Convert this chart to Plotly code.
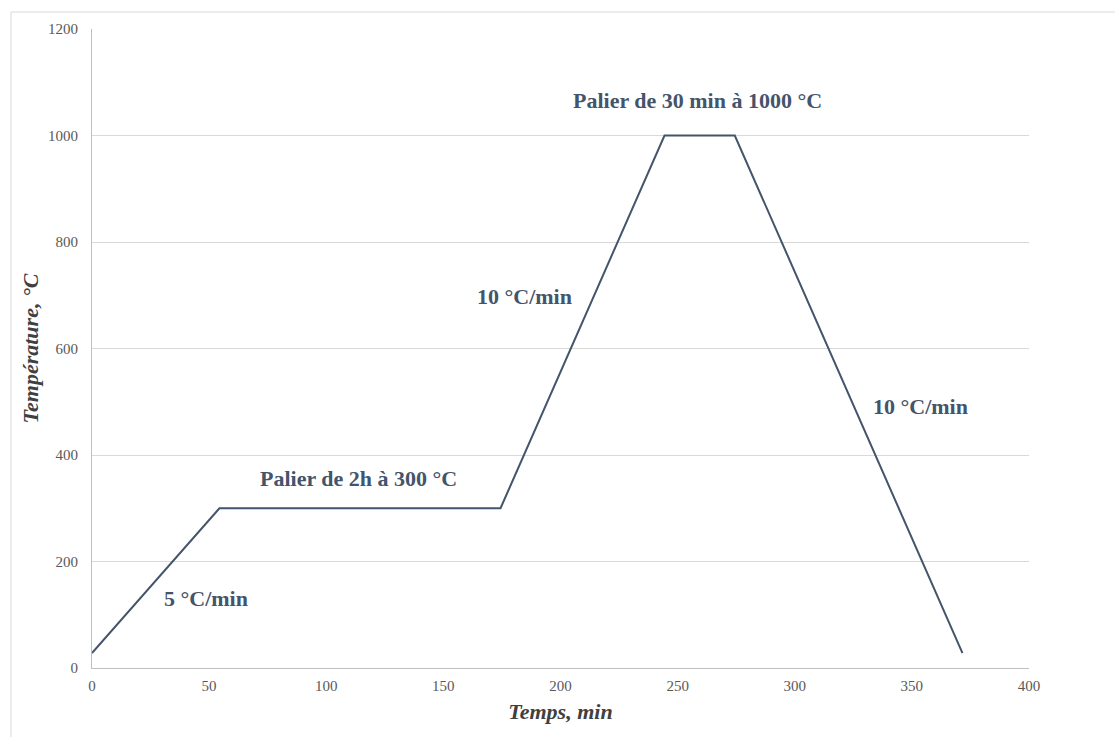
import plotly.graph_objects as go

# Data: time (min) and temperature (°C)
time_min = [0, 54.4, 174.4, 244.4, 274.4, 371.6]
temp_c = [28, 300, 300, 1000, 1000, 28]

# Annotation labels and their data positions
label_texts = ["5 °C/min", "Palier de 2h à 300 °C", "10 °C/min", "Palier de 30 min à 1000 °C", "10 °C/min"]
label_x = [48.7, 113.6, 184.8, 258.3, 353.5]
label_y = [130, 355, 697, 1065, 492]

x_ticks = [0, 50, 100, 150, 200, 250, 300, 350, 400]
y_ticks = [0, 200, 400, 600, 800, 1000, 1200]

LINE_COLOR = "#44546A"
FONT = "Liberation Serif"

fig = go.Figure()
fig.add_trace(go.Scatter(x=time_min, y=temp_c, mode="lines",
                         line=dict(color=LINE_COLOR, width=2), showlegend=False,
                         hoverinfo="skip"))

for t, x, y in zip(label_texts, label_x, label_y):
    fig.add_annotation(x=x, y=y, text="<b>" + t + "</b>", showarrow=False,
                       font=dict(family=FONT, size=22, color=LINE_COLOR))

fig.update_layout(
    width=1115, height=737,
    margin=dict(l=92, r=86, t=29, b=69),
    paper_bgcolor="white", plot_bgcolor="white",
    font=dict(family=FONT, size=15, color="#595959"),
    xaxis=dict(range=[0, 400], tickvals=x_ticks, showgrid=False,
               showline=True, linecolor="#BFBFBF", linewidth=1, zeroline=False,
               ticks="", ticklabelstandoff=4, tickfont=dict(size=15, color="#595959"),
               title=dict(text="<b><i>Temps, min</i></b>",
                          font=dict(family=FONT, size=22, color="#404040"), standoff=10)),
    yaxis=dict(range=[0, 1200], tickvals=y_ticks, showgrid=True, gridcolor="#D9D9D9",
               gridwidth=1, showline=True, linecolor="#BFBFBF", linewidth=1, zeroline=False,
               ticks="", ticklabelstandoff=10, tickfont=dict(size=15, color="#595959"),
               title=dict(text="<b><i>Température, °C</i></b>",
                          font=dict(family=FONT, size=22, color="#404040"), standoff=3)),
)

# Outer frame around the chart
fig.add_shape(type="rect", xref="paper", yref="paper",
              x0=-0.0864, x1=1.2, y0=-0.2, y1=1.0266,
              line=dict(color="#D9D9D9", width=1), fillcolor="rgba(0,0,0,0)", layer="below")

fig.write_html("out.html")
